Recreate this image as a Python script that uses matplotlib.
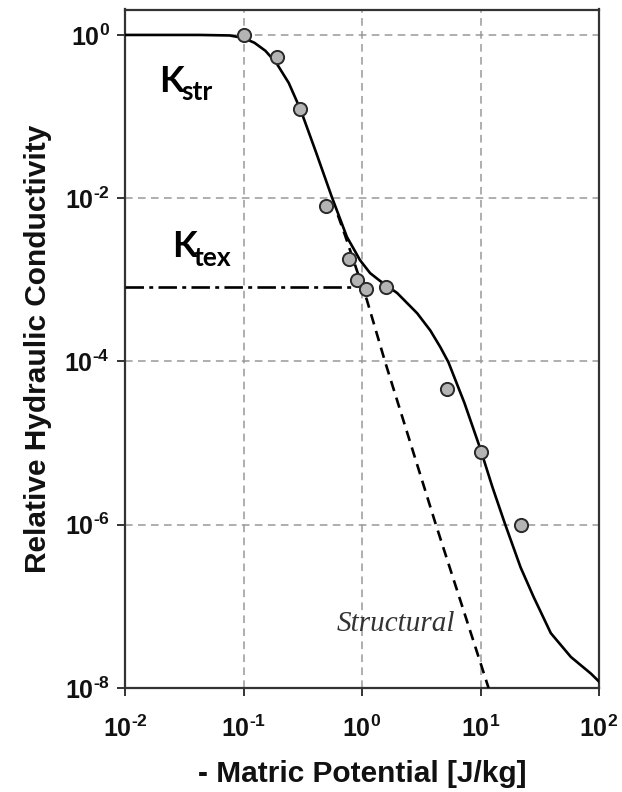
import numpy as np
import matplotlib.pyplot as plt

plt.rcParams['mathtext.fontset'] = 'custom'
plt.rcParams['mathtext.rm'] = 'Liberation Sans:bold'
plt.rcParams['mathtext.it'] = 'Liberation Sans:bold'
plt.rcParams['mathtext.bf'] = 'Liberation Sans:bold'

# measured points
psi_obs = [0.1, 0.19, 0.30, 0.50, 0.78, 0.91, 1.08, 1.6, 5.25, 10.0, 22.0]
k_obs = [1.0, 0.54, 0.124, 0.008, 0.0018, 0.001, 0.00077, 0.00082, 4.6e-5, 7.8e-6, 1.0e-6]

# fitted total conductivity curve
psi_fit = [0.01, 0.0424, 0.076, 0.1, 0.124, 0.153, 0.19, 0.241, 0.304, 0.408,
           0.557, 0.746, 0.872, 0.96, 1.17, 1.42, 1.98, 2.92, 3.77, 4.58, 5.36,
           7.32, 10.0, 12.6, 16.0, 21.8, 28.1, 39.2, 57.9, 85.5, 100.0]
k_fit = [1.0, 1.0, 0.986, 0.92, 0.80, 0.64, 0.45, 0.258, 0.12, 0.037,
         0.0103, 0.00335, 0.00225, 0.00175, 0.00121, 9.7e-4, 6.9e-4, 3.9e-4,
         2.4e-4, 1.5e-4, 9.8e-5, 3.1e-5, 8.4e-6, 2.9e-6, 1.05e-6, 3.0e-7,
         1.3e-7, 4.7e-8, 2.4e-8, 1.5e-8, 1.2e-8]

# structural component beyond the texture plateau
psi_str = [0.626, 0.718, 1.10, 1.57, 4.16, 11.7]
k_str = [0.0062, 0.00354, 5.65e-4, 9.8e-5, 1.05e-6, 1.0e-8]

# textural plateau level
psi_tex = [0.01, 0.84]
k_tex = [8.2e-4, 8.2e-4]

fig = plt.figure(figsize=(6.22, 7.92), dpi=100)
ax = fig.add_axes([125 / 622, 1 - 688 / 792, 474 / 622, 678.5 / 792])

ax.set_xscale('log')
ax.set_yscale('log')
ax.set_xlim(1e-2, 1e2)
ax.set_ylim(1e-8, 2.05)

ax.plot(psi_fit, k_fit, color='black', lw=1.9, zorder=3)
ax.plot(psi_str, k_str, color='black', lw=1.9, ls=(0, (4, 2.6)), zorder=3)
ax.plot(psi_tex, k_tex, color='black', lw=1.9, ls=(0, (7, 2, 1.5, 2)), zorder=3)
ax.plot(psi_obs, k_obs, 'o', ms=9.5, mfc='#b4b4b4', mec='#2a2a2a', mew=1.4, zorder=4)

xt = [1e-2, 1e-1, 1e0, 1e1, 1e2]
yt = [1e-8, 1e-6, 1e-4, 1e-2, 1e0]


def dec_label(e):
    sign = r'\text{-}' if e < 0 else ''
    return r'$10^{%s%d}$' % (sign, abs(e))


ax.set_xticks(xt)
ax.set_yticks(yt)
ax.set_xticklabels([dec_label(e) for e in [-2, -1, 0, 1, 2]], fontsize=18)
ax.set_yticklabels([dec_label(e) for e in [-8, -6, -4, -2, 0]], fontsize=18)
ax.minorticks_off()
ax.tick_params(axis='both', direction='out', length=6, width=1.4, color='#333333',
               labelcolor='#111111')
ax.tick_params(axis='x', pad=14)
ax.tick_params(axis='y', pad=5)

ax.grid(True, which='major', color='#999999', lw=1.1, ls=(0, (5, 3.5)))
for s in ax.spines.values():
    s.set_linewidth(1.6)
    s.set_color('#333333')

ax.set_xlabel('- Matric Potential [J/kg]', fontsize=21.5, fontweight='bold',
              family='Liberation Sans', color='#111111', labelpad=13)
ax.set_ylabel('Relative Hydraulic Conductivity', fontsize=21.5, fontweight='bold',
              family='Liberation Sans', color='#111111', labelpad=9)

# component labels
fig.text(159 / 622, 1 - 92 / 792, 'K', fontsize=26, fontweight='bold', family='Lato')
fig.text(181 / 622, 1 - 100 / 792, 'str', fontsize=19, fontweight='bold', family='Lato')
fig.text(172 / 622, 1 - 257 / 792, 'K', fontsize=26, fontweight='bold', family='Lato')
fig.text(194 / 622, 1 - 266 / 792, 'tex', fontsize=19, fontweight='bold', family='Lato')
fig.text(337 / 622, 1 - 631 / 792, 'Structural', fontsize=21, style='italic',
         family='Liberation Serif', color='#333333')

fig.savefig('out.png', dpi=100)
